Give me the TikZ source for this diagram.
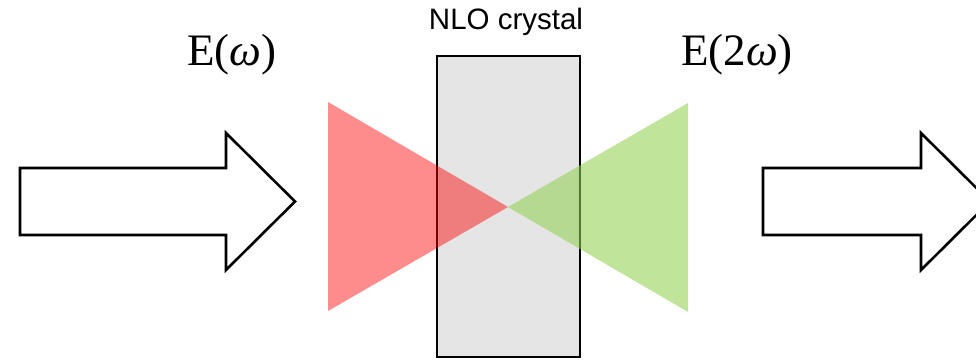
\documentclass[tikz,border=0pt]{standalone}
\usepackage{fontspec}
\setsansfont{Liberation Sans}
\newfontfamily\fieldfont{Liberation Serif}
\begin{document}
\begin{tikzpicture}[x=1pt,y=-1pt,
  outline/.style={draw=black,line width=2.6pt,line join=miter},
  beamred/.style={fill=red,fill opacity=0.45},
  beamgreen/.style={fill={rgb,255:red,146;green,208;blue,80},fill opacity=0.57},
  fieldlabel/.style={anchor=base,inner sep=0pt,font=\fieldfont\fontsize{45}{50}\selectfont},
  tag/.style={anchor=base,inner sep=0pt,font=\sffamily\fontsize{29.5}{32}\selectfont}]
  \useasboundingbox (0,0) rectangle (976,361);
  \clip (0,0) rectangle (976,361);

  % incoming block arrow
  \draw[outline,fill=white] (20,168) -- (226,168) -- (226,133) -- (295,201.5)
    -- (226,270) -- (226,235) -- (20,235) -- cycle;

  % outgoing block arrow (tip runs past the right edge)
  \draw[outline,fill=white] (763,168) -- (921,168) -- (921,133) -- (990,201.5)
    -- (921,270) -- (921,235) -- (763,235) -- cycle;

  % crystal slab
  \node[outline,fill={rgb,255:red,229;green,229;blue,229},minimum width=143pt,
    minimum height=301pt,inner sep=0pt] (crystal) at (508.5,206.5) {};

  % focused fundamental beam and generated second harmonic
  \fill[beamred] (328,102) -- (508,207) -- (328,311) -- cycle;
  \fill[beamgreen] (688,103) -- (508,207) -- (688,312) -- cycle;

  % labels
  \node[tag] (name) at (506,30) {NLO crystal};
  \node[fieldlabel] (fin) at (232,65) {E(\textit{ω})};
  \node[fieldlabel] (fout) at (737,65) {E(2\textit{ω})};
\end{tikzpicture}
\end{document}
